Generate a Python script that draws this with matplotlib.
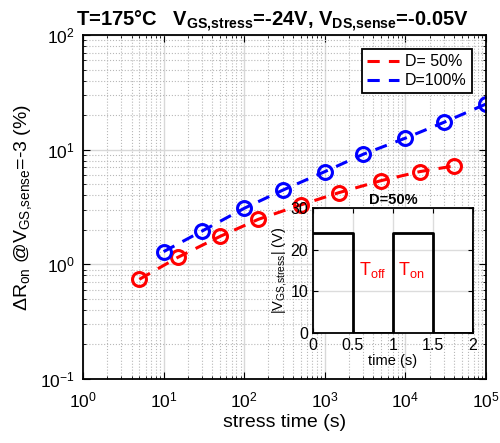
import numpy as np
from matplotlib import pyplot as plt

plt.rcParams['font.family'] = ['Liberation Sans', 'DejaVu Sans']
plt.rcParams['mathtext.fontset'] = 'custom'
plt.rcParams['mathtext.rm'] = 'Liberation Sans'
plt.rcParams['mathtext.it'] = 'Liberation Sans'
plt.rcParams['mathtext.bf'] = 'Liberation Sans:bold'
plt.rcParams['mathtext.default'] = 'regular'

# stress time (s) and resistance shift (%)
t_50 = [5, 15, 50, 150, 500, 1500, 5000, 15000, 40000]
dr_50 = [0.74, 1.15, 1.75, 2.47, 3.29, 4.22, 5.37, 6.43, 7.21]
t_100 = [10, 30, 100, 300, 1000, 3000, 10000, 30000, 100000]
dr_100 = [1.29, 1.95, 3.08, 4.43, 6.43, 9.12, 12.6, 17.3, 25.0]

# gate stress waveform for the inset
wave_t = [0, 0.5, 0.5, 1.0, 1.0, 1.5, 1.5, 2.0, 2.0]
wave_v = [24, 24, 0, 0, 24, 24, 0, 0, 24]

fig = plt.figure(figsize=(5, 4.43), dpi=100)
ax = fig.add_axes([0.166, 0.1445, 0.806, 0.7765])

ax.plot(t_50, dr_50, 'r--', lw=2.2, dashes=(4, 3), label='D= 50%')
ax.plot(t_100, dr_100, 'b--', lw=2.2, dashes=(4, 3), label='D=100%')
ax.plot(t_50, dr_50, 'ro', ms=10, mfc='none', mew=2.2)
ax.plot(t_100, dr_100, 'bo', ms=10, mfc='none', mew=2.2)

ax.set_xscale('log')
ax.set_yscale('log')
ax.set_xlim(1, 1e5)
ax.set_ylim(0.1, 100)
ax.grid(True, which='major', color='#d8d8d8', lw=1)
ax.grid(True, which='minor', color='#b8b8b8', lw=0.8, ls=':')
ax.tick_params(which='both', direction='in', top=True, right=True, labelsize=12.5)
ax.tick_params(axis='x', pad=8)
ax.tick_params(axis='y', pad=6)
ax.tick_params(which='major', length=5)
ax.tick_params(which='minor', length=2.5)
for s in ax.spines.values():
    s.set_linewidth(1.3)
ax.set_xlabel('stress time (s)', fontsize=14, labelpad=3)
ax.set_ylabel(r'$\Delta$R$_{on}$ @V$_{GS{,}sense}$=-3 (%)', fontsize=14, labelpad=4)
ax.set_title(r'T=175°C   V$_{GS{,}stress}$=-24V, V$_{DS{,}sense}$=-0.05V',
             fontsize=14.5, fontweight='bold', x=0.47, pad=6)
leg = ax.legend(loc='upper right', fontsize=11.5, handlelength=2.0,
                fancybox=False, framealpha=1, borderaxespad=0.9,
                borderpad=0.3, labelspacing=0.25, handletextpad=0.4)
leg.get_frame().set_edgecolor('black')
leg.get_frame().set_linewidth(1.3)

# inset: gate voltage waveform
ins = fig.add_axes([0.626, 0.248, 0.32, 0.2825])
ins.plot(wave_t, wave_v, 'k-', lw=2)
ins.set_xlim(0, 2)
ins.set_ylim(0, 30)
ins.set_xticks([0, 0.5, 1, 1.5, 2])
ins.set_xticklabels(['0', '0.5', '1', '1.5', '2'])
ins.set_yticks([0, 10, 20, 30])
ins.grid(True, color='#dcdcdc', lw=1)
ins.tick_params(direction='in', top=True, right=True, labelsize=11.5)
for s in ins.spines.values():
    s.set_linewidth(1.3)
ins.set_title('D=50%', fontsize=10.5, fontweight='bold', pad=3)
ins.set_xlabel('time (s)', fontsize=10.5, labelpad=1)
ins.set_ylabel(r'|V$_{GS{,}stress}$| (V)', fontsize=10.5, labelpad=1)
ins.text(0.58, 14, r'T$_{off}$', color='red', fontsize=13)
ins.text(1.06, 14, r'T$_{on}$', color='red', fontsize=13)

fig.savefig('out.png', dpi=100)
